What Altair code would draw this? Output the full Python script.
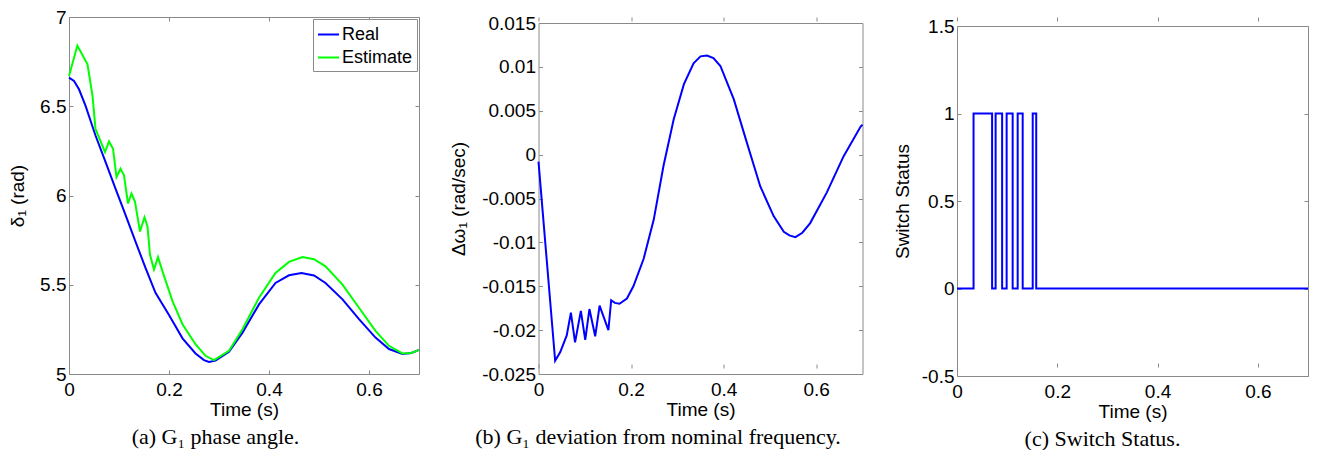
import altair as alt
import pandas as pd

FONT = "Liberation Sans"
SERIF = "Liberation Serif"
GRAY = "#8a8a8a"
FS = 19

# ---------------- data ----------------
# (a) G1 phase angle
a_real_t = [0, 0.01, 0.02, 0.033, 0.053, 0.073, 0.093, 0.113, 0.133, 0.153, 0.173, 0.2,
            0.227, 0.253, 0.27, 0.28, 0.293, 0.32, 0.347, 0.38, 0.413, 0.44, 0.465, 0.49,
            0.513, 0.547, 0.58, 0.613, 0.64, 0.667, 0.685, 0.7]
a_real_v = [6.66, 6.642, 6.595, 6.503, 6.336, 6.188, 6.039, 5.891, 5.742, 5.594, 5.455, 5.33,
            5.20, 5.115, 5.078, 5.068, 5.075, 5.125, 5.232, 5.39, 5.51, 5.553, 5.566, 5.552,
            5.51, 5.418, 5.307, 5.204, 5.14, 5.112, 5.118, 5.135]
a_est_t = [0, 0.0167, 0.037, 0.047, 0.053, 0.072, 0.08, 0.088, 0.095, 0.103, 0.110, 0.118,
           0.125, 0.132, 0.142, 0.151, 0.157, 0.162, 0.17, 0.178, 0.187, 0.207, 0.227, 0.253,
           0.273, 0.29, 0.32, 0.347, 0.38, 0.413, 0.44, 0.467, 0.49, 0.513, 0.547, 0.58,
           0.613, 0.64, 0.667, 0.685, 0.7]
a_est_v = [6.67, 6.84, 6.735, 6.559, 6.373, 6.243, 6.303, 6.262, 6.104, 6.150, 6.113, 5.955,
           6.011, 5.965, 5.798, 5.878, 5.826, 5.668, 5.585, 5.655, 5.575, 5.408, 5.279, 5.167,
           5.102, 5.078, 5.13, 5.251, 5.427, 5.566, 5.628, 5.655, 5.643, 5.603, 5.501, 5.371,
           5.242, 5.158, 5.115, 5.118, 5.135]

# (b) G1 deviation from nominal frequency
b_t = [0, 0.036, 0.047, 0.061, 0.070, 0.079, 0.0915, 0.101, 0.110, 0.1225, 0.132, 0.151,
       0.157, 0.165, 0.175, 0.191, 0.205, 0.227, 0.249, 0.270, 0.292, 0.314, 0.335, 0.35,
       0.364, 0.378, 0.393, 0.422, 0.450, 0.479, 0.508, 0.530, 0.542, 0.555, 0.57, 0.587,
       0.623, 0.659, 0.696, 0.7]
b_v = [-0.0008, -0.0235, -0.0225, -0.0206, -0.0180, -0.0214, -0.0178, -0.0211, -0.0176, -0.0207,
       -0.0172, -0.0200, -0.0166, -0.0169, -0.0170, -0.0164, -0.0150, -0.0119, -0.0074, -0.0013,
       0.0040, 0.0080, 0.0104, 0.0112, 0.0113, 0.0110, 0.0101, 0.0063, 0.0014, -0.0036,
       -0.0070, -0.0088, -0.0092, -0.0094, -0.0089, -0.0078, -0.0043, -0.0002, 0.0032, 0.0034]

# (c) Switch status
c_t = [0, 0.033, 0.070, 0.077, 0.090, 0.099, 0.111, 0.121, 0.131, 0.151, 0.158, 0.7]
c_v = [0, 1, 0, 1, 0, 1, 0, 1, 0, 1, 0, 0]

x_ticks = [0, 0.2, 0.4, 0.6]
a_ticks = [5, 5.5, 6, 6.5, 7]
b_ticks = [-0.025, -0.02, -0.015, -0.01, -0.005, 0, 0.005, 0.01, 0.015]
c_ticks = [-0.5, 0, 0.5, 1, 1.5]

series_names = ["Real", "Estimate"]
series_colors = ["#0000ff", "#00ff00"]

captions = ["(a) G\u2081 phase angle.",
            "(b) G\u2081 deviation from nominal frequency.",
            "(c) Switch Status."]
y_titles = ["\u03b4\u2081 (rad)", "\u0394\u03c9\u2081 (rad/sec)", "Switch Status"]

# ---------------- helpers ----------------
LABEL_EXPR = "datum.value < 0 ? '-' + format(-datum.value, '~g') : format(datum.value, '~g')"
TICK = 4
XSCALE = alt.Scale(domain=[0, 0.7], nice=False, zero=False)


def yscale(dom, rng):
    return alt.Scale(domain=dom, range=rng, nice=False, zero=False)


def x_main(plot_h):
    return alt.X("t:Q", scale=XSCALE,
                 axis=alt.Axis(values=x_ticks, format="~g", labelFlush=False, title="Time (s)",
                               ticks=False, tickSize=0, domain=True, domainColor=GRAY,
                               domainWidth=1, grid=True, gridColor=GRAY, gridWidth=1,
                               gridOpacity=1, gridDash=[TICK, plot_h - 2 * TICK, TICK],
                               labelPadding=6, titlePadding=1))


def y_main(ys, vals, title, w, extent, tpad):
    return alt.Y("v:Q", scale=ys,
                 axis=alt.Axis(values=vals, labelExpr=LABEL_EXPR, title=title,
                               ticks=False, tickSize=0, domain=True, domainColor=GRAY,
                               domainWidth=1, grid=True, gridColor=GRAY, gridWidth=1,
                               gridOpacity=1, gridDash=[TICK, w - 2 * TICK, TICK],
                               labelPadding=3, minExtent=extent, maxExtent=extent,
                               titlePadding=tpad))


def frame_layer(df, ys, top_offset):
    # invisible mark whose top / right axes draw the remaining two sides of the box
    return alt.Chart(df).mark_line(opacity=0).encode(
        x=alt.X("t:Q", scale=XSCALE,
                axis=alt.Axis(orient="top", labels=False, ticks=False, grid=False,
                              domain=True, domainColor=GRAY, domainWidth=1,
                              offset=top_offset, title=None)),
        y=alt.Y("v:Q", scale=ys,
                axis=alt.Axis(orient="right", labels=False, ticks=False, grid=False,
                              domain=True, domainColor=GRAY, domainWidth=1, title=None)))


def caption(text):
    return alt.TitleParams(text=text, orient="bottom", anchor="middle", frame="bounds",
                           font=SERIF, fontSize=22, fontWeight="normal", color="black",
                           offset=8)


# ---------------- panel a ----------------
WA, HA = 350, 357
ys_a = yscale([5, 7], [357, 0])
df_real = pd.DataFrame({"t": a_real_t, "v": a_real_v, "series": series_names[0]})
df_est = pd.DataFrame({"t": a_est_t, "v": a_est_v, "series": series_names[1]})

color = alt.Color("series:N",
                  scale=alt.Scale(domain=series_names, range=series_colors),
                  legend=alt.Legend(title=None, orient="top-right", offset=2, padding=4,
                                    strokeColor=GRAY, fillColor="white",
                                    symbolType="stroke", symbolSize=441,
                                    symbolStrokeWidth=2, labelFontSize=18, labelFont=FONT,
                                    labelColor="black", labelOffset=2, rowPadding=2))

line_real = alt.Chart(df_real).mark_line(strokeWidth=2).encode(
    x=x_main(357), y=y_main(ys_a, a_ticks, y_titles[0], WA, 30, 12), color=color)
line_est = alt.Chart(df_est).mark_line(strokeWidth=2).encode(
    x=alt.X("t:Q", scale=XSCALE, axis=None), y=alt.Y("v:Q", scale=ys_a, axis=None), color=color)
chart_a = alt.layer(line_real, line_est, frame_layer(df_real, ys_a, 0)).resolve_axis(
    x="independent", y="independent").properties(width=WA, height=HA, title=caption(captions[0]))

# ---------------- panel b ----------------
WB, HB = 324, 357
ys_b = yscale([-0.025, 0.015], [357, 6])
df_b = pd.DataFrame({"t": b_t, "v": b_v})
line_b = alt.Chart(df_b).mark_line(strokeWidth=2, color="#0000ff").encode(
    x=x_main(351), y=y_main(ys_b, b_ticks, y_titles[1], WB, 57, 13))
chart_b = alt.layer(line_b, frame_layer(df_b, ys_b, -6)).resolve_axis(
    x="independent", y="independent").properties(width=WB, height=HB, title=caption(captions[1]))

# ---------------- panel c ----------------
WC, HC = 351, 359
ys_c = yscale([-0.5, 1.5], [359, 9])
df_c = pd.DataFrame({"t": c_t, "v": c_v})
line_c = alt.Chart(df_c).mark_line(strokeWidth=2, color="#0000ff", interpolate="step-after").encode(
    x=x_main(350), y=y_main(ys_c, c_ticks, y_titles[2], WC, 36, 9))
chart_c = alt.layer(line_c, frame_layer(df_c, ys_c, -9)).resolve_axis(
    x="independent", y="independent").properties(width=WC, height=HC, title=caption(captions[2]))

chart = alt.hconcat(chart_a, chart_b, chart_c, spacing=26.5).resolve_scale(
    color="independent").resolve_legend(color="independent").properties(
    padding={"left": 0, "top": 0, "right": 0, "bottom": 0},
    background="white"
).configure_view(stroke=None).configure_axis(
    labelFont=FONT, titleFont=FONT, labelFontSize=FS, titleFontSize=FS,
    labelColor="black", titleColor="black", titleFontWeight="normal"
)

chart.save("out.html", embed_options={"renderer": "svg", "actions": False})
